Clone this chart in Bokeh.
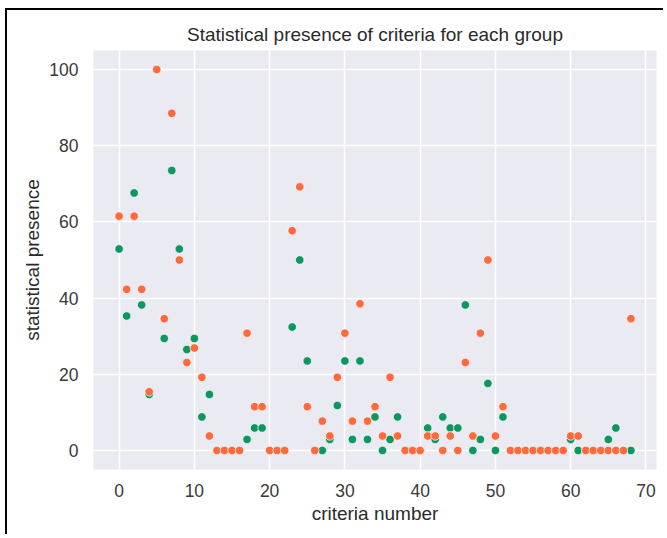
from bokeh.plotting import figure
from bokeh.models import Range1d, FixedTicker, ColumnDataSource
from bokeh.embed import file_html
from bokeh.resources import INLINE

criteria = list(range(69))

group_green = [52.9, 35.3, 67.6, 38.2, 14.7, 100.0, 29.4, 73.5, 52.9, 26.5,
               29.4, 8.8, 14.7, 0, 0, 0, 0, 2.9, 5.9, 5.9,
               0, 0, 0, 32.4, 50.0, 23.5, 0, 0, 2.9, 11.8,
               23.5, 2.9, 23.5, 2.9, 8.8, 0, 2.9, 8.8, 0, 0,
               0, 5.9, 2.9, 8.8, 5.9, 5.9, 38.2, 0, 2.9, 17.6,
               0, 8.8, 0, 0, 0, 0, 0, 0, 0, 0,
               2.9, 0, 0, 0, 0, 2.9, 5.9, 0, 0]

group_orange = [61.5, 42.3, 61.5, 42.3, 15.4, 100.0, 34.6, 88.5, 50.0, 23.1,
                26.9, 19.2, 3.8, 0, 0, 0, 0, 30.8, 11.5, 11.5,
                0, 0, 0, 57.7, 69.2, 11.5, 0, 7.7, 3.8, 19.2,
                30.8, 7.7, 38.5, 7.7, 11.5, 3.8, 19.2, 3.8, 0, 0,
                0, 3.8, 3.8, 0, 3.8, 0, 23.1, 3.8, 30.8, 50.0,
                3.8, 11.5, 0, 0, 0, 0, 0, 0, 0, 0,
                3.8, 3.8, 0, 0, 0, 0, 0, 0, 34.6]

x_ticks = [0, 10, 20, 30, 40, 50, 60, 70]
y_ticks = [0, 20, 40, 60, 80, 100]

FONT = "Liberation Sans"
TXT = "#3a3a3a"

p = figure(width=658, height=526, output_backend="svg", toolbar_location=None,
           x_range=Range1d(-3.4, 71.4), y_range=Range1d(-5, 105),
           title="Statistical presence of criteria for each group",
           x_axis_label="criteria number", y_axis_label="statistical presence",
           min_border_left=86, min_border_right=9, min_border_top=40,
           min_border_bottom=67,
           styles={"margin-left": "5px", "margin-top": "8px",
                   "border-left": "2px solid black", "border-top": "2px solid black"})

p.background_fill_color = "#eaeaf2"
p.border_fill_color = "white"
p.outline_line_color = None

p.title.align = "center"
p.title.text_font = FONT
p.title.text_font_size = "19px"
p.title.text_font_style = "normal"
p.title.text_color = "#2a2a2a"
p.title.standoff = 12

for ax in (p.xaxis[0], p.yaxis[0]):
    ax.axis_line_color = None
    ax.major_tick_line_color = None
    ax.minor_tick_line_color = None
    ax.major_tick_out = 0
    ax.major_tick_in = 0
    ax.minor_tick_out = 0
    ax.minor_tick_in = 0
    ax.major_label_text_font = FONT
    ax.major_label_text_font_size = "17.5px"
    ax.major_label_text_color = TXT
    ax.axis_label_text_font = FONT
    ax.axis_label_text_font_size = "19px"
    ax.axis_label_text_font_style = "normal"
    ax.axis_label_text_color = "#2a2a2a"

p.xaxis[0].ticker = FixedTicker(ticks=x_ticks)
p.yaxis[0].ticker = FixedTicker(ticks=y_ticks)
p.xaxis[0].major_label_standoff = 14
p.yaxis[0].major_label_standoff = 15
p.xaxis[0].axis_label_standoff = 3
p.yaxis[0].axis_label_standoff = 3

p.xgrid[0].ticker = FixedTicker(ticks=x_ticks)
p.ygrid[0].ticker = FixedTicker(ticks=y_ticks)
for g in (p.xgrid[0], p.ygrid[0]):
    g.grid_line_color = "white"
    g.grid_line_width = 1.5

src = ColumnDataSource(dict(x=criteria, g=group_green, o=group_orange))
p.scatter("x", "g", source=src, size=8.5, fill_color="#0e9660",
          line_color="white", line_width=0.7)
p.scatter("x", "o", source=src, size=8.5, fill_color="#fd6a3d",
          line_color="white", line_width=0.7)

open("out.html", "w").write(file_html(p, INLINE))
